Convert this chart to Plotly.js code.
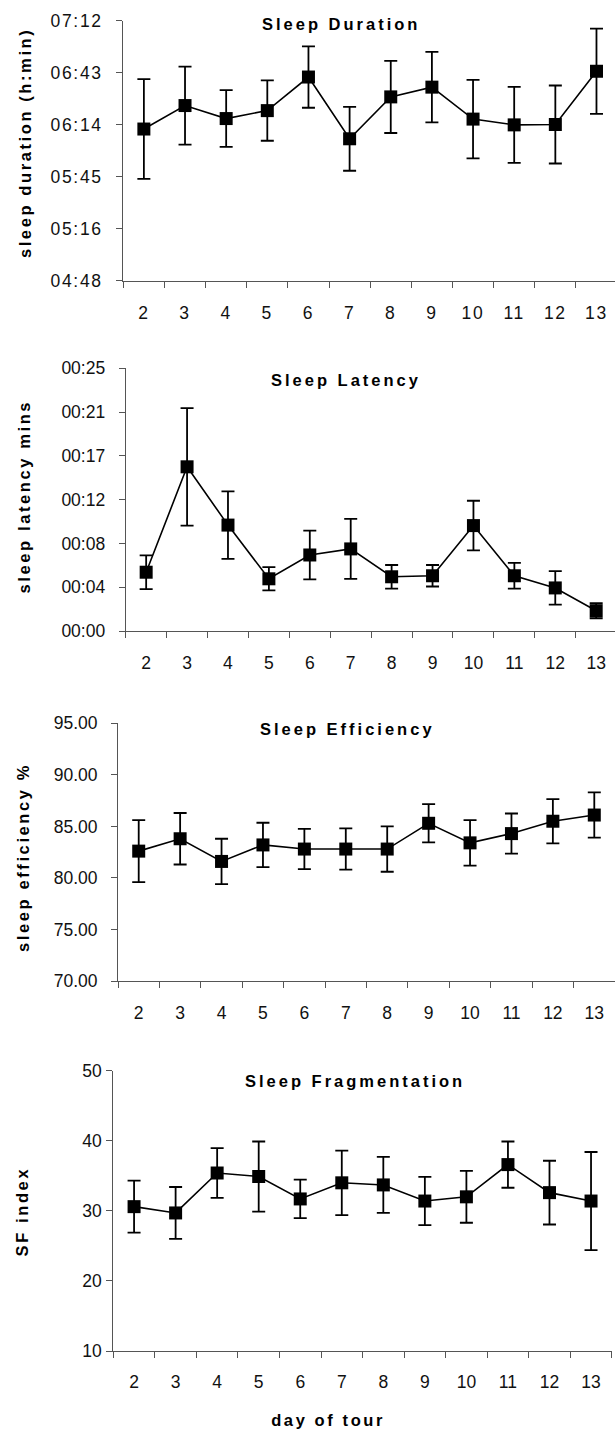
<!DOCTYPE html>
<html>
<head>
<meta charset="utf-8">
<script src="https://cdn.plot.ly/plotly-3.0.1.min.js"></script>
<style>
  html, body { margin: 0; padding: 0; background: #ffffff; }
  #chart { width: 615px; height: 1434px; }
  .annotation-text { letter-spacing: 3px; }
  .annotation[data-index="4"] .annotation-text,
  .annotation[data-index="5"] .annotation-text,
  .annotation[data-index="6"] .annotation-text,
  .annotation[data-index="7"] .annotation-text,
  .annotation[data-index="8"] .annotation-text { letter-spacing: 2.6px; }
  .xtick text, .ytick text { letter-spacing: 1.7px; }
</style>
</head>
<body>
<div id="chart"></div>
<script>
// ---------------- data ----------------
const days = ["2", "3", "4", "5", "6", "7", "8", "9", "10", "11", "12", "13"];

// Sleep duration in minutes (shown as h:min), mean and error
const durationMin = [372, 385, 377.8, 382.2, 400.8, 366.6, 389.8, 395.2, 377.5, 374.3, 374.5, 404];
const durationErr = [27.6, 21.6, 15.7, 16.7, 17, 17.7, 20, 19.5, 21.7, 21, 21.6, 23.6];
const durationTickVals = [288, 316.8, 345.6, 374.4, 403.2, 432];
const durationTickText = ["04:48", "05:16", "05:45", "06:14", "06:43", "07:12"];

// Sleep latency, minutes
const latencyMin = [5.8, 16.2, 10.45, 5.15, 7.5, 8.1, 5.35, 5.45, 10.4, 5.45, 4.25, 2.0];
const latencyErr = [1.67, 5.8, 3.33, 1.15, 2.4, 2.96, 1.16, 1.06, 2.45, 1.27, 1.65, 0.74];
const latencyTickVals = [0, 4.32, 8.64, 12.96, 17.28, 21.6, 25.92];
const latencyTickText = ["00:00", "00:04", "00:08", "00:12", "00:17", "00:21", "00:25"];

// Sleep efficiency, %
const efficiency = [82.6, 83.8, 81.6, 83.2, 82.8, 82.8, 82.8, 85.3, 83.4, 84.3, 85.5, 86.1];
const efficiencyErr = [3.0, 2.5, 2.2, 2.15, 1.95, 2.0, 2.2, 1.85, 2.2, 1.95, 2.15, 2.2];
const efficiencyTickVals = [70, 75, 80, 85, 90, 95];

// Sleep fragmentation index
const fragmentation = [30.6, 29.7, 35.4, 34.9, 31.7, 34.0, 33.7, 31.4, 32.0, 36.6, 32.6, 31.4];
const fragmentationErr = [3.7, 3.7, 3.55, 5.0, 2.75, 4.6, 4.0, 3.45, 3.7, 3.3, 4.55, 7.0];
const fragmentationTickVals = [10, 20, 30, 40, 50];

const panelTitles = ["Sleep Duration", "Sleep Latency", "Sleep Efficiency", "Sleep Fragmentation"];
const yTitles = ["sleep duration (h:min)", "sleep latency mins", "sleep efficiency %", "SF index"];
const xTitle = "day of tour";

// ---------------- layout helpers ----------------
const W = 615, H = 1434;
const fx = px => px / W;
const fy = py => 1 - py / H;

const tickFont = { family: "Liberation Sans, Arial, sans-serif", size: 17.5, color: "#111111" };
const titleFont = { family: "Liberation Sans, Arial, sans-serif", size: 16.5, color: "#000000", weight: "bold" };
const axisTitleFont = { family: "Liberation Sans, Arial, sans-serif", size: 16.5, color: "#000000", weight: "bold" };
const axisColor = "#555555";

function trace(y, err, n) {
  const s = n === 1 ? "" : String(n);
  return {
    type: "scatter",
    mode: "lines+markers",
    x: days,
    y: y,
    xaxis: "x" + s,
    yaxis: "y" + s,
    line: { color: "#000000", width: 1.6 },
    marker: { symbol: "square", size: 13, color: "#000000" },
    error_y: { type: "data", array: err, visible: true, color: "#000000", thickness: 1.8, width: 6.5 },
    cliponaxis: false,
    hoverinfo: "skip"
  };
}

function xaxis(domain, rmax, anchor, standoff) {
  return {
    type: "category",
    domain: domain,
    range: [-0.5, rmax],
    anchor: anchor,
    showline: true, linecolor: axisColor, linewidth: 1,
    ticks: "outside", ticklen: 6, tickcolor: axisColor, tickwidth: 1,
    tickson: "boundaries",
    ticklabelstandoff: standoff,
    showgrid: false, zeroline: false,
    tickfont: tickFont,
    fixedrange: true
  };
}

function yaxis(domain, range, vals, text, anchor, standoff) {
  const a = {
    domain: domain,
    range: range,
    anchor: anchor,
    showline: true, linecolor: axisColor, linewidth: 1,
    ticks: "outside", ticklen: 6, tickcolor: axisColor, tickwidth: 1,
    tickmode: "array", tickvals: vals,
    ticklabelstandoff: standoff,
    showgrid: false, zeroline: false,
    tickfont: tickFont,
    fixedrange: true
  };
  if (text) a.ticktext = text;
  return a;
}

const data = [
  trace(durationMin, durationErr, 1),
  trace(latencyMin, latencyErr, 2),
  trace(efficiency, efficiencyErr, 3),
  trace(fragmentation, fragmentationErr, 4)
];

function ann(text, x, y, angle, font) {
  return {
    text: text, xref: "paper", yref: "paper",
    x: fx(x), y: fy(y), xanchor: "center", yanchor: "middle",
    showarrow: false, textangle: angle || 0, font: font
  };
}

const layout = {
  width: W, height: H,
  margin: { l: 0, r: 0, t: 0, b: 0, pad: 0 },
  paper_bgcolor: "#ffffff", plot_bgcolor: "#ffffff",
  showlegend: false,
  xaxis:  xaxis([fx(123.3), 1], 11.45, "y", 16),
  xaxis2: xaxis([fx(125.7), 1], 11.46, "y2", 16),
  xaxis3: xaxis([fx(118), 1], 11.5, "y3", 16),
  xaxis4: xaxis([fx(113.3), fx(611.8)], 11.5, "y4", 15),
  yaxis:  yaxis([fy(280.7), fy(20.7)], [288, 432], durationTickVals, durationTickText, "x", 10),
  yaxis2: yaxis([fy(631), fy(368.3)], [0, 25.92], latencyTickVals, latencyTickText, "x2", 10),
  yaxis3: Object.assign(yaxis([fy(981), fy(723.3)], [70, 95], efficiencyTickVals, null, "x3", 10), { tickformat: ".2f" }),
  yaxis4: yaxis([fy(1351), fy(1070.7)], [10, 50], fragmentationTickVals, null, "x4", 1),
  annotations: [
    ann(panelTitles[0], 341, 24, 0, titleFont),
    ann(panelTitles[1], 346, 380, 0, titleFont),
    ann(panelTitles[2], 347, 729, 0, titleFont),
    ann(panelTitles[3], 354.5, 1081, 0, titleFont),
    ann(yTitles[0], 25, 143.5, -90, axisTitleFont),
    ann(yTitles[1], 24, 497, -90, axisTitleFont),
    ann(yTitles[2], 22, 857.5, -90, axisTitleFont),
    ann(yTitles[3], 22, 1212, -90, axisTitleFont),
    ann(xTitle, 328, 1420, 0, axisTitleFont)
  ]
};

Plotly.newPlot("chart", data, layout, { staticPlot: true, displayModeBar: false });
</script>
</body>
</html>
